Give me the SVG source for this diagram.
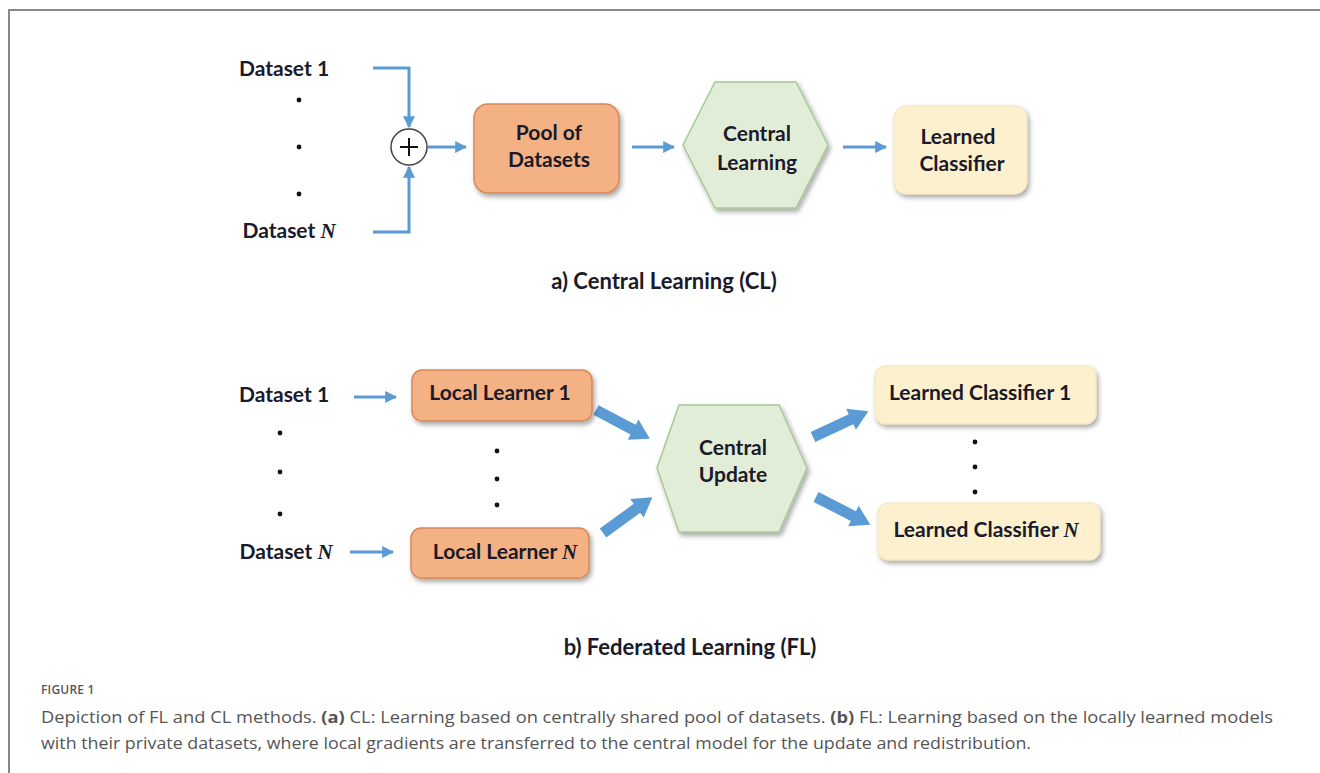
<svg xmlns="http://www.w3.org/2000/svg" width="1320" height="773" viewBox="0 0 1320 773">
<defs>
<filter id="sh" x="-20%" y="-20%" width="150%" height="160%">
<feDropShadow dx="2" dy="3" stdDeviation="2.5" flood-color="#000" flood-opacity="0.35"/>
</filter>
<marker id="ah" viewBox="0 0 10 10" refX="9" refY="5" markerWidth="4" markerHeight="4" orient="auto" markerUnits="strokeWidth">
<path d="M0,0 L10,5 L0,10 z" fill="#5b9bd5"/>
</marker>
<style>
.lbl{font-family:Lato,"Open Sans",sans-serif;font-weight:bold;font-size:21px;fill:#1a1a2a;text-anchor:middle}
.ttl{font-size:22px}
.it{font-family:"Liberation Serif",serif;font-style:italic;font-weight:bold}
.orange{fill:#f4b183;stroke:#d9875a;stroke-width:1.5}
.green{fill:#e2edd7;stroke:#a8c898;stroke-width:1.5}
.yellow{fill:#fdf0cf;stroke:#f3e3b8;stroke-width:1}
.ln{fill:none;stroke:#5b9bd5;stroke-width:3}
.blk{fill:#5b9bd5}
.dot{fill:#111}
.cap{font-family:"Open Sans",sans-serif;fill:#555}
</style>
</defs>
<rect width="1320" height="773" fill="#fff"/>
<path d="M9,773 V10 H1320" fill="none" stroke="#888" stroke-width="2"/>

<g id="connectors">
<path class="ln" d="M373,68 H409 V127" marker-end="url(#ah)"/>
<path class="ln" d="M373,232 H409 V167" marker-end="url(#ah)"/>
<path class="ln" d="M428,147 H466" marker-end="url(#ah)"/>
<path class="ln" d="M632,147 H674" marker-end="url(#ah)"/>
<path class="ln" d="M843,147 H886" marker-end="url(#ah)"/>
<path class="ln" d="M354,397 H396" marker-end="url(#ah)"/>
<path class="ln" d="M350,552 H393" marker-end="url(#ah)"/>
<path class="blk" d="M0,-5.5 H42 V-11.5 L61,0 L42,11.5 V5.5 H0 z" transform="translate(596,410) rotate(28)"/>
<path class="blk" d="M0,-5.5 H42 V-11.5 L61,0 L42,11.5 V5.5 H0 z" transform="translate(603,533) rotate(-36)"/>
<path class="blk" d="M0,-5.5 H42 V-11.5 L61,0 L42,11.5 V5.5 H0 z" transform="translate(813,437) rotate(-25)"/>
<path class="blk" d="M0,-5.5 H42 V-11.5 L61,0 L42,11.5 V5.5 H0 z" transform="translate(816,497) rotate(27)"/>
</g>

<g id="cl-dataset1"><text class="lbl" x="284" y="76">Dataset 1</text></g>
<g id="cl-dots">
<circle class="dot" cx="299" cy="100" r="2.4"/>
<circle class="dot" cx="299" cy="147" r="2.4"/>
<circle class="dot" cx="299" cy="194" r="2.4"/>
</g>
<g id="cl-datasetN"><text class="lbl" x="289" y="238">Dataset <tspan class="it">N</tspan></text></g>
<g id="sum">
<circle cx="409" cy="147" r="18" fill="#fff" stroke="#444" stroke-width="1.5"/>
<path d="M400,147 H418 M409,138 V156" stroke="#111" stroke-width="2"/>
</g>
<g id="pool">
<rect class="orange" x="474" y="104" width="145" height="89" rx="14" filter="url(#sh)"/>
<text class="lbl" x="549" y="140">Pool of</text>
<text class="lbl" x="549" y="167">Datasets</text>
</g>
<g id="central-learning">
<polygon class="green" points="683,145 715,82 796,82 828,145 796,208 715,208" filter="url(#sh)"/>
<text class="lbl" x="757" y="141">Central</text>
<text class="lbl" x="757" y="170">Learning</text>
</g>
<g id="learned-classifier">
<rect class="yellow" x="894" y="106" width="133" height="88" rx="12" filter="url(#sh)"/>
<text class="lbl" x="958" y="144">Learned</text>
<text class="lbl" x="962" y="171">Classifier</text>
</g>
<g id="title-a"><text class="lbl ttl" x="664" y="289">a) Central Learning (CL)</text></g>

<g id="fl-dataset1"><text class="lbl" x="284" y="402">Dataset 1</text></g>
<g id="fl-dots">
<circle class="dot" cx="280" cy="433" r="2.4"/>
<circle class="dot" cx="280" cy="472" r="2.4"/>
<circle class="dot" cx="280" cy="514" r="2.4"/>
<circle class="dot" cx="497" cy="451" r="2.4"/>
<circle class="dot" cx="497" cy="479" r="2.4"/>
<circle class="dot" cx="497" cy="505" r="2.4"/>
<circle class="dot" cx="975" cy="442" r="2.4"/>
<circle class="dot" cx="975" cy="467" r="2.4"/>
<circle class="dot" cx="975" cy="492" r="2.4"/>
</g>
<g id="fl-datasetN"><text class="lbl" x="286" y="559">Dataset <tspan class="it">N</tspan></text></g>
<g id="local1">
<rect class="orange" x="412" y="370" width="180" height="51" rx="10" filter="url(#sh)"/>
<text class="lbl" x="500" y="400">Local Learner 1</text>
</g>
<g id="localN">
<rect class="orange" x="411" y="528" width="178" height="50" rx="10" filter="url(#sh)"/>
<text class="lbl" x="505" y="559">Local Learner <tspan class="it">N</tspan></text>
</g>
<g id="central-update">
<polygon class="green" points="657,468 679,405 779,405 807,468 779,532 679,532" filter="url(#sh)"/>
<text class="lbl" x="733" y="455">Central</text>
<text class="lbl" x="733" y="482">Update</text>
</g>
<g id="classifier1">
<rect class="yellow" x="875" y="366" width="221" height="58" rx="10" filter="url(#sh)"/>
<text class="lbl" x="980" y="400">Learned Classifier 1</text>
</g>
<g id="classifierN">
<rect class="yellow" x="878" y="503" width="222" height="57" rx="10" filter="url(#sh)"/>
<text class="lbl" x="986" y="537">Learned Classifier <tspan class="it">N</tspan></text>
</g>
<g id="title-b"><text class="lbl ttl" x="690" y="655">b) Federated Learning (FL)</text></g>

<g id="caption">
<text class="cap" x="41" y="694" font-size="12" font-weight="600" letter-spacing="0.2">FIGURE 1</text>
<text class="cap" x="41" y="723" font-size="16" textLength="1232" lengthAdjust="spacingAndGlyphs">Depiction of FL and CL methods. <tspan font-weight="bold">(a)</tspan> CL: Learning based on centrally shared pool of datasets. <tspan font-weight="bold">(b)</tspan> FL: Learning based on the locally learned models</text>
<text class="cap" x="41" y="749" font-size="16" textLength="990" lengthAdjust="spacingAndGlyphs">with their private datasets, where local gradients are transferred to the central model for the update and redistribution.</text>
</g>
</svg>
